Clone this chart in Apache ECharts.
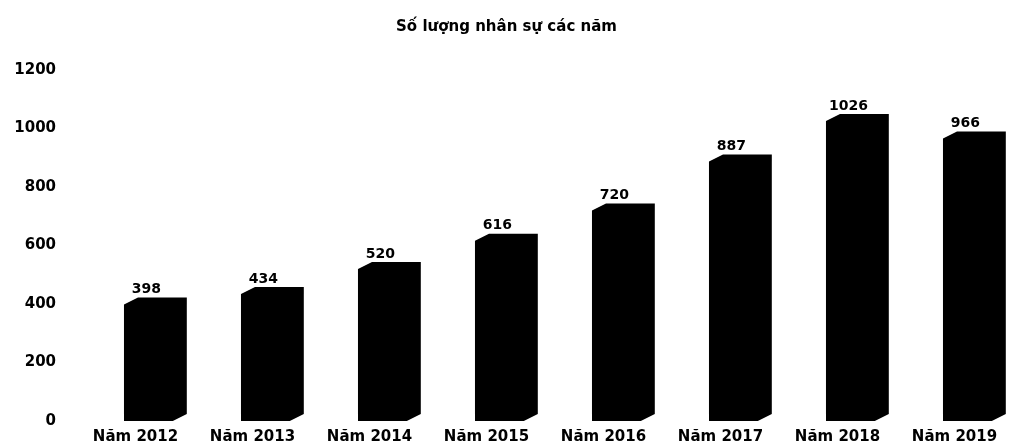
<!DOCTYPE html>
<html>
<head>
<meta charset="utf-8">
<title>Số lượng nhân sự các năm</title>
<script src="https://cdn.jsdelivr.net/npm/echarts@6/dist/echarts.min.js"></script>
<style>
  html, body { margin: 0; padding: 0; background: #fff; }
  #chart { width: 1013px; height: 445px; }
</style>
</head>
<body>
<div id="chart"></div>
<script>
const years = ['Năm 2012', 'Năm 2013', 'Năm 2014', 'Năm 2015', 'Năm 2016', 'Năm 2017', 'Năm 2018', 'Năm 2019']
const staff = [398, 434, 520, 616, 720, 887, 1026, 966]
const yTicks = [0, 200, 400, 600, 800, 1000, 1200]

const FONT = 'DejaVu Sans'
const chart = echarts.init(document.getElementById('chart'))

// black "3D" bar: front face with chamfered top-left and bottom-right corners
function renderBar(params, api) {
  const v = api.value(1)
  const base = api.coord([api.value(0), 0])
  const top = api.coord([api.value(0), v])
  const band = api.size([1, 0])[0]
  const w = band * 0.537
  const cx = base[0] + band * 0.17
  const x0 = cx - w / 2
  const x1 = cx + w / 2
  const yb = base[1]
  const yt = top[1]
  const dx = 14, dy = 7

  return {
    type: 'group',
    children: [
      {
        type: 'polygon',
        shape: {
          points: [
            [x0, yt], [x0 + dx, yt - dy], [x1, yt - dy],
            [x1, yb - dy], [x1 - dx, yb], [x0, yb]
          ]
        },
        style: { fill: '#000' }
      },
      {
        type: 'text',
        x: cx - 9,
        y: yt - dy - 8,
        style: {
          text: String(v),
          fill: '#000',
          font: 'bold 14px "' + FONT + '"',
          align: 'center',
          verticalAlign: 'middle'
        }
      }
    ]
  }
}

chart.setOption({
  animation: false,
  backgroundColor: '#fff',
  title: {
    text: 'Số lượng nhân sự các năm',
    left: 'center',
    top: 15,
    textStyle: { color: '#000', fontFamily: FONT, fontSize: 15, fontWeight: 'bold' }
  },
  grid: { left: 77, right: -9, top: 70, bottom: 23, containLabel: false },
  xAxis: {
    type: 'category',
    data: years,
    axisLine: { show: false },
    axisTick: { show: false },
    axisLabel: { color: '#000', fontFamily: FONT, fontSize: 15, fontWeight: 'bold', margin: 9 }
  },
  yAxis: {
    type: 'value',
    min: yTicks[0],
    max: yTicks[yTicks.length - 1],
    interval: 200,
    axisLine: { show: false },
    axisTick: { show: false },
    splitLine: { show: false },
    axisLabel: {
      color: '#000', fontFamily: FONT, fontSize: 15, fontWeight: 'bold', margin: 21,
      formatter: v => String(v)
    }
  },
  series: [{
    type: 'custom',
    renderItem: renderBar,
    encode: { x: 0, y: 1 },
    clip: false,
    data: staff.map((v, i) => [i, v])
  }]
})
</script>
</body>
</html>
